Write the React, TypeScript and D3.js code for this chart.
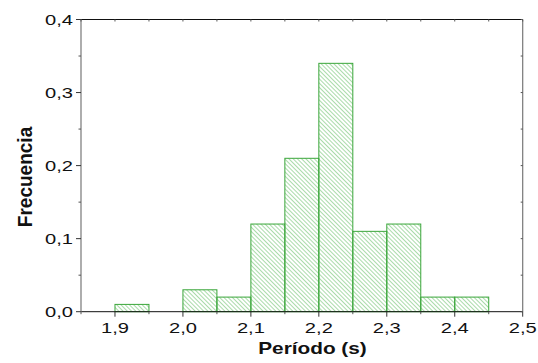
import React from 'react';
import * as d3 from 'd3';

// histogram bins (left edge, s) and relative frequency
const binStarts = [1.9, 2.0, 2.05, 2.1, 2.15, 2.2, 2.25, 2.3, 2.35, 2.4];
const frequencies = [0.01, 0.03, 0.02, 0.12, 0.21, 0.34, 0.11, 0.12, 0.02, 0.02];
const binWidth = 0.05;

const xTicks = [1.9, 2.0, 2.1, 2.2, 2.3, 2.4, 2.5];
const xMinor = [1.85, 1.95, 2.05, 2.15, 2.25, 2.35, 2.45];
const yTicks = [0, 0.1, 0.2, 0.3, 0.4];
const yMinor = [0.05, 0.15, 0.25, 0.35];

const fmt = (v: number) => v.toFixed(1).replace('.', ',');

const App = () => {
  const width = 538;
  const height = 363;
  const margin = { top: 19.5, right: 15.3, bottom: 51.3, left: 81 };
  const innerW = width - margin.left - margin.right;
  const innerH = height - margin.top - margin.bottom;

  const x = d3.scaleLinear().domain([1.85, 2.5]).range([0, innerW]);
  const y = d3.scaleLinear().domain([0, 0.4]).range([innerH, 0]);

  const font = 'Arial, "Liberation Sans", sans-serif';
  const stretch = 1.3; // the original's text is wide

  return (
    <svg width={width} height={height} style={{ position: 'absolute', left: 0, top: 0 }}>
      <defs>
        <pattern id="hatch" patternUnits="userSpaceOnUse" width={3} height={3}
          patternTransform="rotate(-45)">
          <line x1={0} y1={0} x2={0} y2={3} stroke="#55b855" strokeWidth={1} />
        </pattern>
      </defs>
      <rect width={width} height={height} fill="#fff" />
      <g transform={`translate(${margin.left},${margin.top})`}>
        {/* bars */}
        {binStarts.map((b, i) => (
          <rect key={i}
            x={x(b)} y={y(frequencies[i])}
            width={x(b + binWidth) - x(b)} height={innerH - y(frequencies[i])}
            fill="url(#hatch)" stroke="#3aa63a" strokeWidth={1} />
        ))}

        {/* frame */}
        <line x1={0} x2={innerW} y1={0} y2={0} stroke="#111" />
        <line x1={0} x2={innerW} y1={innerH} y2={innerH} stroke="#111" />
        <line x1={0} x2={0} y1={0} y2={innerH} stroke="#777" strokeWidth={1.2} />
        <line x1={innerW} x2={innerW} y1={0} y2={innerH} stroke="#777" strokeWidth={1.2} />

        {/* y axis ticks */}
        {yTicks.map(t => (
          <g key={t} transform={`translate(0,${y(t)})`}>
            <line x1={-5} x2={0} stroke="#333" />
            <line x1={innerW} x2={innerW - 2} stroke="#555" />
            <text transform={`translate(-8,0) scale(${stretch},1)`} dy="0.36em" textAnchor="end"
              fontSize={15.5} fontFamily={font} fill="#111">
              {fmt(t)}
            </text>
          </g>
        ))}
        {yMinor.map(t => (
          <g key={t} transform={`translate(0,${y(t)})`}>
            <line x1={-2.5} x2={0} stroke="#555" />
            <line x1={innerW} x2={innerW - 2} stroke="#555" />
          </g>
        ))}

        {/* x axis ticks */}
        {xTicks.map(t => (
          <g key={t} transform={`translate(${x(t)},0)`}>
            <line y1={innerH} y2={innerH + 5} stroke="#333" />
            <line y1={0} y2={2} stroke="#555" />
            <text transform={`translate(0,${innerH + 21.5}) scale(${stretch},1)`} textAnchor="middle"
              fontSize={15.5} fontFamily={font} fill="#111">
              {fmt(t)}
            </text>
          </g>
        ))}
        {xMinor.map(t => (
          <g key={t} transform={`translate(${x(t)},0)`}>
            <line y1={innerH} y2={innerH + 2.5} stroke="#555" />
            <line y1={0} y2={2} stroke="#555" />
          </g>
        ))}
      </g>

      {/* axis titles */}
      <text transform={`translate(312.5,354) scale(${stretch},1)`} textAnchor="middle" fontSize={16}
        fontWeight="bold" fontFamily={font} fill="#111">Período (s)</text>
      <text transform="translate(32,177) rotate(-90) scale(1.19,1.3)" textAnchor="middle"
        fontSize={16} fontWeight="bold" fontFamily={font} fill="#111">Frecuencia</text>
    </svg>
  );
};

export default App;
